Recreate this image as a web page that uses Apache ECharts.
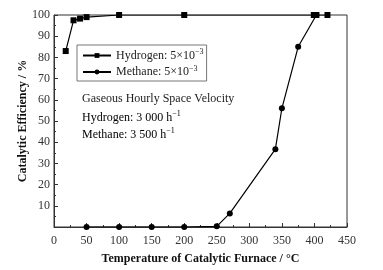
<!DOCTYPE html>
<html>
<head>
<meta charset="utf-8">
<script src="https://cdn.jsdelivr.net/npm/echarts@6/dist/echarts.min.js"></script>
<style>
    html, body { margin: 0; padding: 0; background: #fff; }
    #chart { width: 383px; height: 270px; }
</style>
</head>
<body>
<div id="chart"></div>
<script>
    // 数据
    var hydrogenTemp = [18, 30, 40, 50, 100, 200, 399, 403, 420];
    var hydrogenEff = [83, 97.5, 98.3, 99, 100, 100, 100, 100, 100];
    var methaneTemp = [50, 100, 150, 200, 250, 270, 340, 350, 375, 403];
    var methaneEff = [0, 0, 0, 0, 0.3, 6.4, 36.7, 56, 85, 100];

    var serif = "Liberation Serif";
    var supRich = {
        n: { fontFamily: serif, fontSize: 12, color: "#222" },
        s: { fontFamily: serif, fontSize: 8, color: "#222", padding: [0, 0, 7, 0] }
    };

    function pairs(xs, ys) {
        return xs.map(function (x, i) { return [x, ys[i]]; });
    }

    var chart = echarts.init(document.getElementById("chart"));
    var option = {
        animation: false,
        grid: {
            left: 54, right: 36, top: 15, bottom: 43,
            show: true, borderColor: "#333", borderWidth: 1
        },
        legend: {
            left: 77, top: 45,
            orient: "vertical",
            itemWidth: 28, itemHeight: 6, itemGap: 3,
            padding: [3, 3, 3, 5],
            borderColor: "#777", borderWidth: 1,
            data: ["Hydrogen", "Methane"],
            formatter: function (name) {
                return "{n|" + name + ": 5×10}{s|−3}";
            },
            textStyle: { rich: supRich }
        },
        xAxis: {
            type: "value",
            min: 0, max: 450, interval: 50,
            name: "Temperature of Catalytic Furnace / °C",
            nameLocation: "middle", nameGap: 26, nameMoveOverlap: false,
            nameTextStyle: { fontFamily: serif, fontWeight: "bold", fontSize: 12, color: "#111" },
            axisLine: { lineStyle: { color: "#333" } },
            axisTick: { inside: true, length: 4, lineStyle: { color: "#333" } },
            minorTick: { show: true, splitNumber: 2, length: 2, lineStyle: { color: "#333" } },
            axisLabel: { fontFamily: serif, fontSize: 12, color: "#333", margin: 8 },
            splitLine: { show: false }
        },
        yAxis: {
            type: "value",
            min: 0, max: 100, interval: 10,
            name: "Catalytic Efficiency / %",
            nameLocation: "middle", nameGap: 25, nameMoveOverlap: false,
            nameTextStyle: { fontFamily: serif, fontWeight: "bold", fontSize: 12, color: "#111" },
            axisLine: { show: true, lineStyle: { color: "#333" } },
            axisTick: { inside: true, length: 4, lineStyle: { color: "#333" } },
            minorTick: { show: true, splitNumber: 2, length: 2, lineStyle: { color: "#333" } },
            axisLabel: {
                fontFamily: serif, fontSize: 12, color: "#333", margin: 4,
                formatter: function (v) { return v === 0 ? "" : v; }
            },
            splitLine: { show: false }
        },
        graphic: [
            {
                type: "text", left: 82, top: 93,
                style: { text: "Gaseous Hourly Space Velocity", font: "12px " + serif, fill: "#222" }
            },
            {
                type: "text", left: 82, top: 110,
                style: { text: "{n|Hydrogen: 3 000 h}{s|−1}", rich: supRich }
            },
            {
                type: "text", left: 82, top: 127,
                style: { text: "{n|Methane: 3 500 h}{s|−1}", rich: supRich }
            }
        ],
        series: [
            {
                name: "Hydrogen",
                type: "line",
                data: pairs(hydrogenTemp, hydrogenEff),
                symbol: "rect", symbolSize: 6,
                color: "#000",
                lineStyle: { color: "#000", width: 1.2 },
                itemStyle: { color: "#000" }
            },
            {
                name: "Methane",
                type: "line",
                data: pairs(methaneTemp, methaneEff),
                symbol: "circle", symbolSize: 6,
                color: "#000",
                lineStyle: { color: "#000", width: 1.2 },
                itemStyle: { color: "#000" }
            }
        ]
    };
    chart.setOption(option);
</script>
</body>
</html>
